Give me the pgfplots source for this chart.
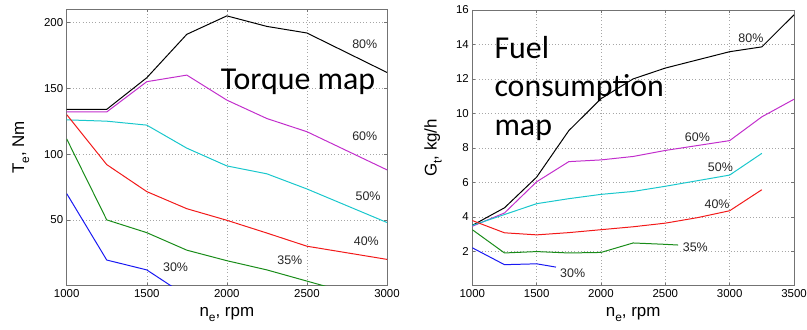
\documentclass[border=0pt]{standalone}
\usepackage{pgfplots}
\pgfplotsset{compat=1.18}
\usepackage{fontspec}
\setmainfont{Liberation Sans}
\newfontfamily\calibri{Carlito}

\definecolor{lk}{rgb}{0,0,0}
\definecolor{lm}{rgb}{0.76,0.18,0.80}
\definecolor{lc}{rgb}{0.10,0.78,0.80}
\definecolor{lr}{rgb}{0.95,0.10,0.10}
\definecolor{lg}{rgb}{0.10,0.55,0.10}
\definecolor{lb}{rgb}{0.10,0.10,0.95}

\newcommand{\sub}[1]{\raisebox{-5bp}{\fontsize{12}{12}\selectfont #1}}

\pgfplotsset{
  mapstyle/.style={
    scale only axis,
    axis line style={black!55, line width=0.6pt},
    grid=major,
    grid style={black!35, line width=0.5pt, dash pattern=on 0.6pt off 2.6pt},
    tick align=inside,
    major tick length=3bp,
    tick style={black!55, line width=0.5pt},
    ticklabel style={font=\fontsize{11.5}{13}\selectfont},
    /pgf/number format/assume math mode=true,
    /pgf/number format/1000 sep={},
    scaled ticks=false,
    label style={font=\fontsize{17}{20}\selectfont},
    every axis plot/.append style={line width=1pt},
    clip=true,
  },
}
\tikzset{
  pct/.style={font=\fontsize{12.5}{14}\selectfont, text=black!85, anchor=center},
  big/.style={font=\calibri\fontsize{32}{38}\selectfont, anchor=base west, inner sep=0pt},
}

\begin{document}
\begin{tikzpicture}
\useasboundingbox (0,0) rectangle (807bp,330bp);

% Torque map
\begin{axis}[mapstyle,
  at={(66.7bp,44.3bp)}, anchor=south west,
  width=320.3bp, height=276.4bp,
  xmin=1000, xmax=3000, ymin=0, ymax=210,
  xtick={1000,1500,...,3000}, ytick={50,100,150,200},
  xlabel={n\sub{e}, rpm}, ylabel={T\sub{e}, Nm},
  xlabel style={at={(axis description cs:0.5,-0.1132)}, anchor=base},
  ylabel style={at={(axis description cs:-0.143,0.5)}, anchor=center},
]
\addplot[lk] coordinates {(1000,134)(1250,134)(1500,158)(1750,191)(2000,205)(2250,197)(2500,192)(3000,162)};
\addplot[lm] coordinates {(1000,132)(1250,132)(1500,155)(1750,160)(2000,141)(2250,127)(2500,117)(3000,88)};
\addplot[lc] coordinates {(1000,126)(1250,125)(1500,122)(1750,104.5)(2000,91)(2250,85)(2500,73.5)(3000,48)};
\addplot[lr] coordinates {(1000,130)(1250,92)(1500,71.5)(1750,58.5)(2000,49.7)(2250,40)(2500,30)(3000,20)};
\addplot[lg] coordinates {(1000,111.5)(1250,50)(1500,40.3)(1750,27)(2000,19)(2250,12)(2500,3.5)(2750,-5)};
\addplot[lb] coordinates {(1000,70)(1250,19.5)(1500,12)(1750,-8)};
\node[pct] at (axis cs:2861,183.5) {80\%};
\node[pct] at (axis cs:2861,113.8) {60\%};
\node[pct] at (axis cs:2882,68) {50\%};
\node[pct] at (axis cs:2871,34) {40\%};
\node[pct] at (axis cs:2393,19.5) {35\%};
\node[pct] at (axis cs:1680,14.4) {30\%};
\node[big] at (axis cs:1962,148.7) {Torque map};
\end{axis}

% Fuel consumption map
\begin{axis}[mapstyle,
  at={(472.3bp,44.3bp)}, anchor=south west,
  width=321.7bp, height=275.7bp,
  xmin=1000, xmax=3500, ymin=0, ymax=16,
  xtick={1000,1500,...,3500}, ytick={2,4,...,16},
  xlabel={n\sub{e}, rpm}, ylabel={G\sub{t}, kg/h},
  xlabel style={at={(axis description cs:0.5,-0.1135)}, anchor=base},
  ylabel style={at={(axis description cs:-0.122,0.5)}, anchor=center},
]
\addplot[lk] coordinates {(1000,3.5)(1250,4.52)(1500,6.3)(1750,9.0)(2000,10.85)(2250,12.0)(2500,12.63)(3000,13.58)(3250,13.86)(3500,15.72)};
\addplot[lm] coordinates {(1000,3.45)(1250,4.22)(1500,6.03)(1750,7.2)(2000,7.3)(2250,7.5)(2500,7.85)(3000,8.42)(3250,9.8)(3500,10.82)};
\addplot[lc] coordinates {(1000,3.5)(1250,4.13)(1500,4.76)(1750,5.05)(2000,5.3)(2250,5.47)(2500,5.77)(3000,6.42)(3250,7.68)};
\addplot[lr] coordinates {(1000,3.78)(1250,3.07)(1500,2.95)(1750,3.08)(2000,3.25)(2250,3.42)(2500,3.63)(2750,3.95)(3000,4.35)(3250,5.57)};
\addplot[lg] coordinates {(1000,3.25)(1250,1.9)(1500,1.98)(1750,1.9)(2000,1.93)(2250,2.48)(2500,2.4)(2600,2.36)};
\addplot[lb] coordinates {(1000,2.2)(1250,1.22)(1500,1.27)(1650,1.08)};
\node[pct] at (axis cs:3165,14.39) {80\%};
\node[pct] at (axis cs:2749,8.62) {60\%};
\node[pct] at (axis cs:2928,6.88) {50\%};
\node[pct] at (axis cs:2902,4.73) {40\%};
\node[pct] at (axis cs:2733,2.25) {35\%};
\node[pct] at (axis cs:1780,0.73) {30\%};
\node[big] at (axis cs:1171,13.21) {Fuel};
\node[big] at (axis cs:1171,10.98) {consumption};
\node[big] at (axis cs:1171,8.74) {map};
\end{axis}
\end{tikzpicture}
\end{document}
